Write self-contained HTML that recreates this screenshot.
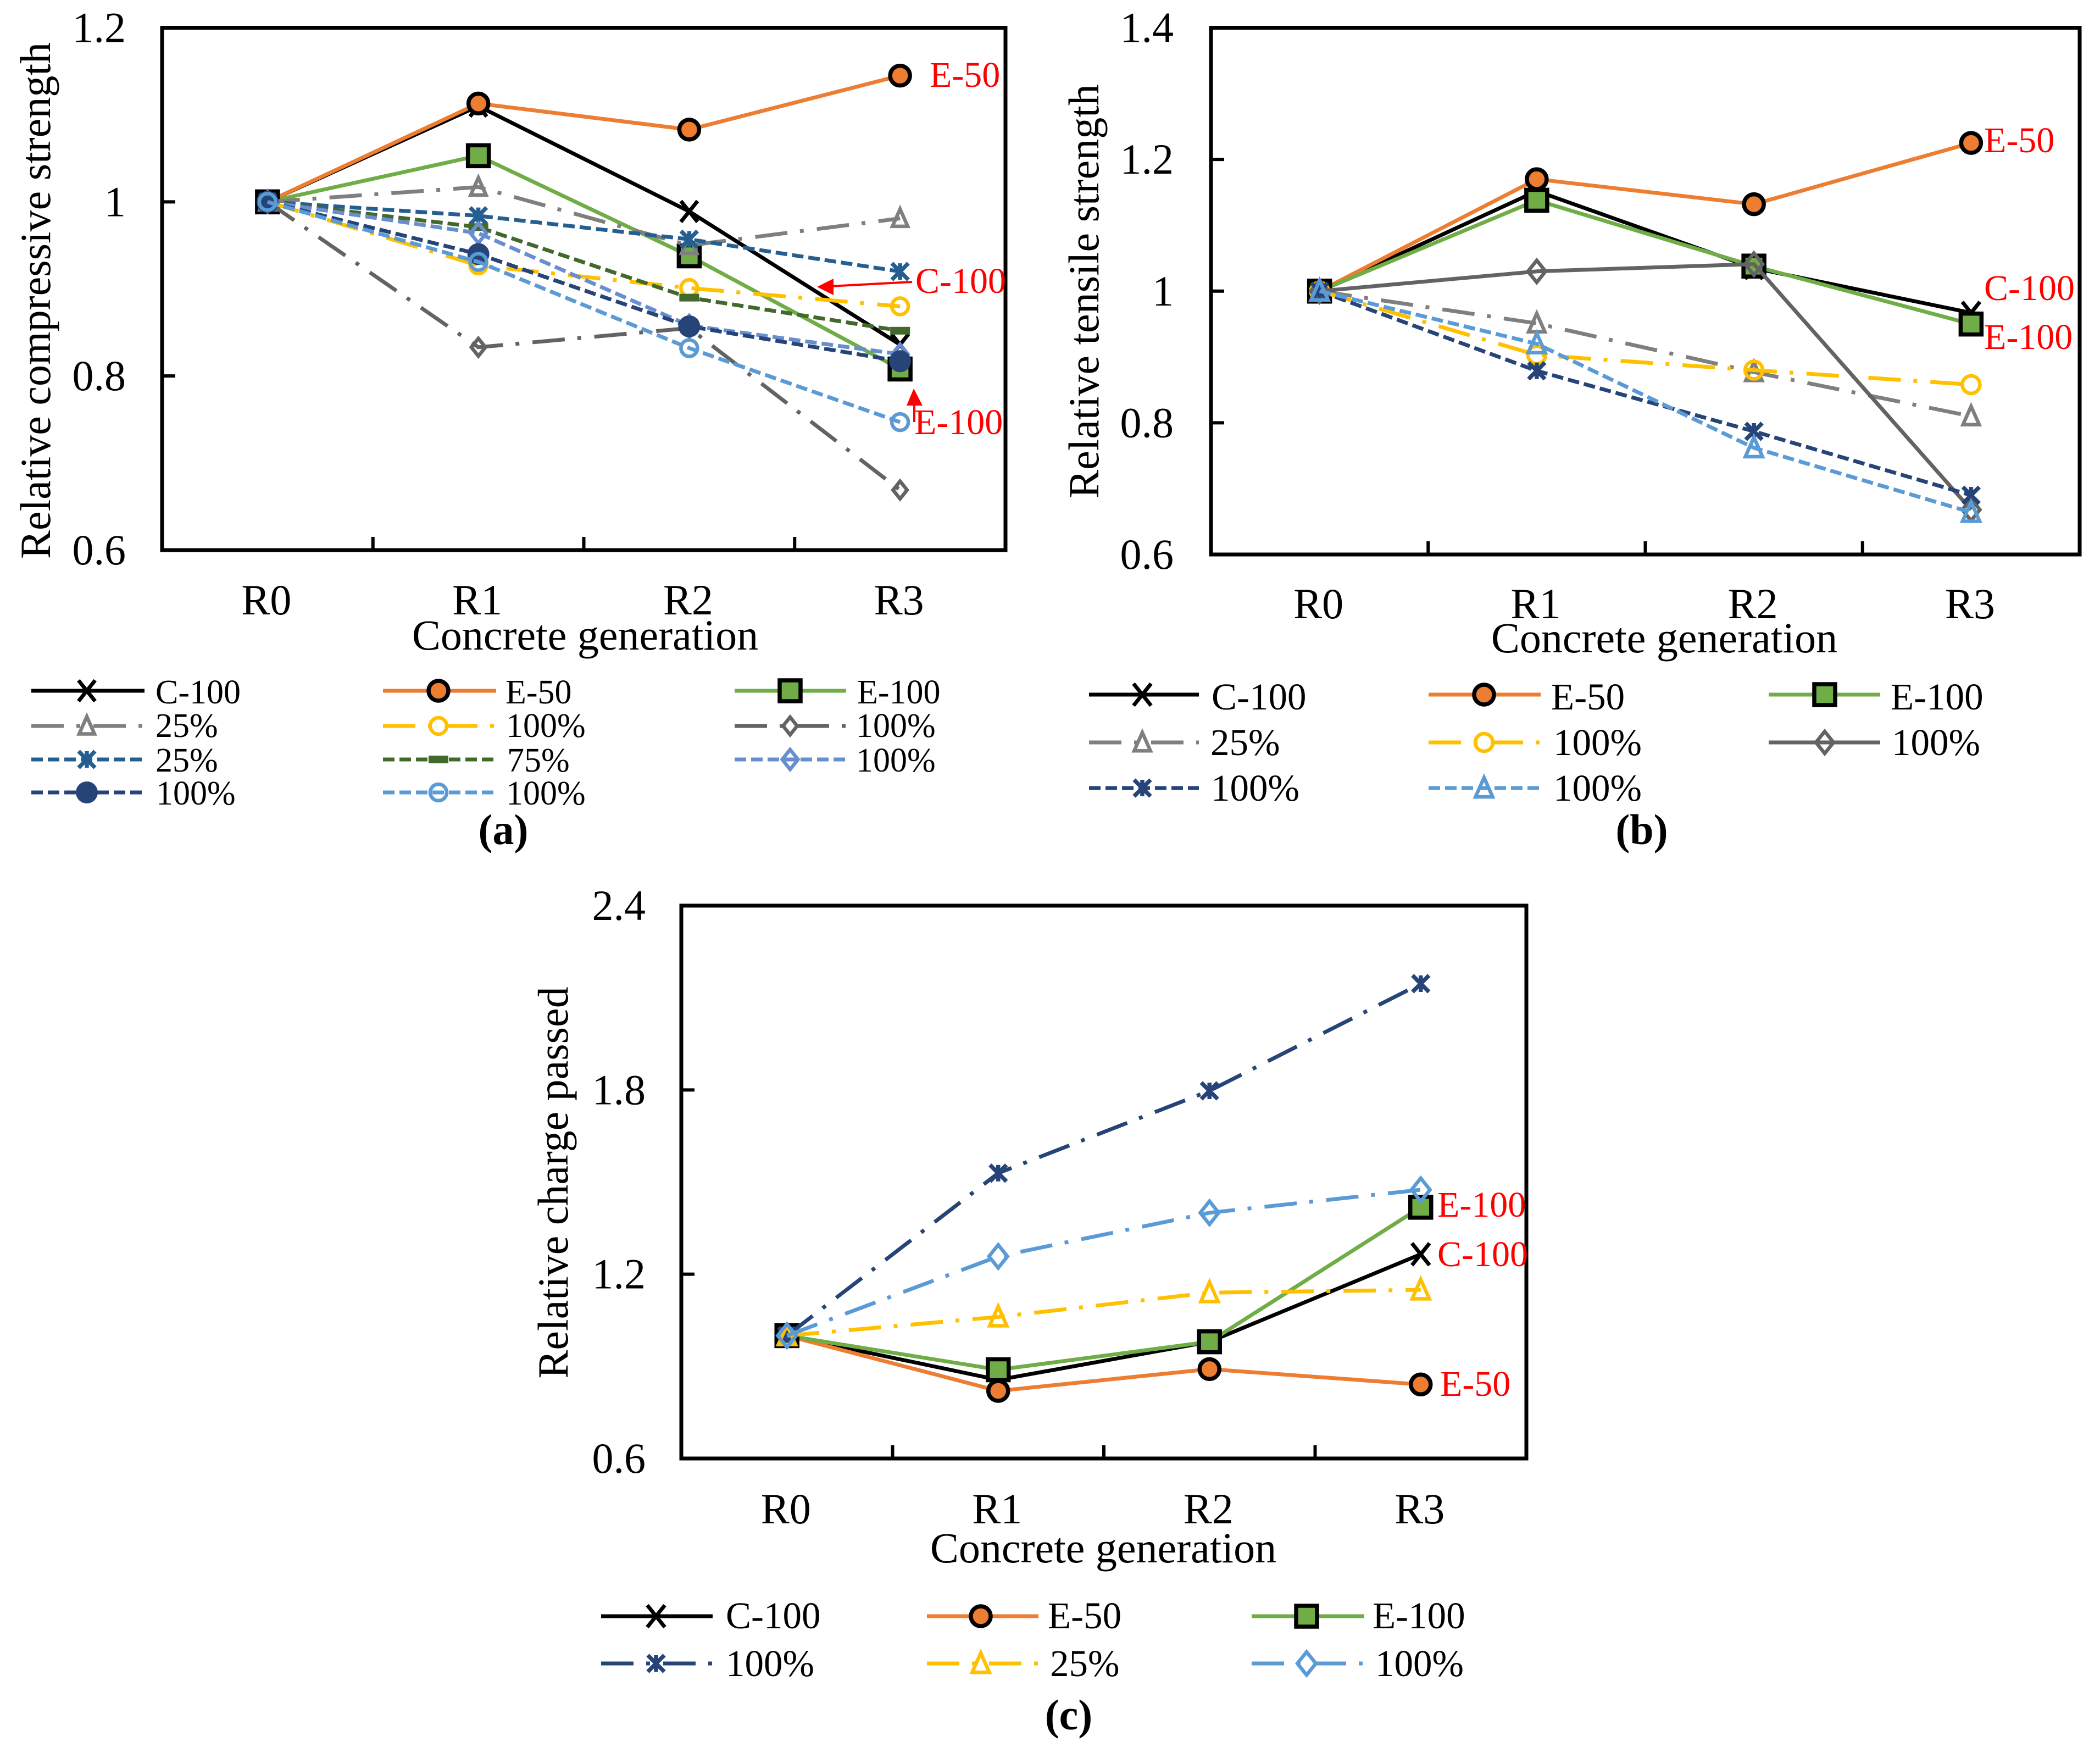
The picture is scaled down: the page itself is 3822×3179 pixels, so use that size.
<!DOCTYPE html>
<html lang="en">
<head>
<meta charset="utf-8">
<title>Relative strength and charge passed by concrete generation</title>
<style>
html,body{margin:0;padding:0;background:#fff;}
svg{display:block;}
text{font-family:"Liberation Serif",serif;fill:#000;}
.title{font-size:78px;}
.leg-a{font-size:62px;}
.leg-b{font-size:69px;}
.red{font-size:66px;fill:#ff0000;}
.cap{font-size:78px;font-weight:bold;text-anchor:middle;}
</style>
</head>
<body>
<svg id="fig" xmlns="http://www.w3.org/2000/svg" width="3822" height="3179" viewBox="0 0 3822 3179">
  <rect x="0" y="0" width="3822" height="3179" fill="#ffffff"/>

  <g id="chart-a"></g>
  <g id="chart-b"></g>
  <g id="chart-c"></g>

  <!-- Chart (a) static text -->
  <text class="title" transform="translate(91,547) rotate(-90)" text-anchor="middle">Relative compressive strength</text>
  <text class="title" x="1065" y="1182" text-anchor="middle">Concrete generation</text>
  <text class="red" x="1692" y="158">E-50</text>
  <text class="red" x="1666" y="533">C-100</text>
  <text class="red" x="1664" y="790">E-100</text>
  <g>
    <line x1="1660" y1="513" x2="1510" y2="521" stroke="#ff0000" stroke-width="4"/>
    <polygon points="1487,522 1517,507 1517,537" fill="#ff0000"/>
  </g>
  <g>
    <line x1="1664" y1="735" x2="1664" y2="768" stroke="#ff0000" stroke-width="4"/>
    <polygon points="1663,707 1650,738 1679,738" fill="#ff0000"/>
  </g>
  <g class="leg-a">
    <text x="283" y="1280">C-100</text>
    <text x="920" y="1280">E-50</text>
    <text x="1560" y="1280">E-100</text>
    <text x="283" y="1341">25%</text>
    <text x="921" y="1341">100%</text>
    <text x="1558" y="1341">100%</text>
    <text x="283" y="1404">25%</text>
    <text x="923" y="1404">75%</text>
    <text x="1558" y="1404">100%</text>
    <text x="284" y="1464">100%</text>
    <text x="921" y="1464">100%</text>
  </g>
  <text class="cap" x="916" y="1536">(a)</text>

  <!-- Chart (b) static text -->
  <text class="title" transform="translate(1999,530) rotate(-90)" text-anchor="middle">Relative tensile strength</text>
  <text class="title" x="3029" y="1187" text-anchor="middle">Concrete generation</text>
  <text class="red" x="3611" y="277">E-50</text>
  <text class="red" x="3611" y="546">C-100</text>
  <text class="red" x="3611" y="635">E-100</text>
  <g class="leg-b">
    <text x="2205" y="1291">C-100</text>
    <text x="2823" y="1291">E-50</text>
    <text x="3441" y="1291">E-100</text>
    <text x="2203" y="1374">25%</text>
    <text x="2827" y="1374">100%</text>
    <text x="3443" y="1374">100%</text>
    <text x="2204" y="1457">100%</text>
    <text x="2827" y="1457">100%</text>
  </g>
  <text class="cap" x="2988" y="1536">(b)</text>

  <!-- Chart (c) static text -->
  <text class="title" transform="translate(1033,2152) rotate(-90)" text-anchor="middle">Relative charge passed</text>
  <text class="title" x="2008" y="2843" text-anchor="middle">Concrete generation</text>
  <text class="red" x="2616" y="2214">E-100</text>
  <text class="red" x="2616" y="2304">C-100</text>
  <text class="red" x="2621" y="2540">E-50</text>
  <g class="leg-b">
    <text x="1321" y="2963">C-100</text>
    <text x="1907" y="2963">E-50</text>
    <text x="2498" y="2963">E-100</text>
    <text x="1321" y="3050">100%</text>
    <text x="1911" y="3050">25%</text>
    <text x="2503" y="3050">100%</text>
  </g>
  <text class="cap" x="1945" y="3147">(c)</text>
</svg>

<script>
// ---- Data ----
const categories = ['R0', 'R1', 'R2', 'R3'];

const aTicks = ['0.6', '0.8', '1', '1.2'];
const aC100 = [1, 1.110, 0.989, 0.836];
const aE50 = [1, 1.113, 1.083, 1.145];
const aE100 = [1, 1.053, 0.938, 0.808];
const aGrayTriangle = [1, 1.017, 0.950, 0.981];
const aYellowCircle = [1, 0.927, 0.901, 0.880];
const aGrayDiamond = [1, 0.833, 0.855, 0.669];
const aBlueStar = [1, 0.984, 0.957, 0.920];
const aGreenDash = [1, 0.971, 0.890, 0.852];
const aPeriDiamond = [1, 0.964, 0.858, 0.825];
const aNavyCircle = [1, 0.940, 0.857, 0.817];
const aLightCircle = [1, 0.931, 0.832, 0.747];

const bTicks = ['0.6', '0.8', '1', '1.2', '1.4'];
const bC100 = [1, 1.152, 1.035, 0.967];
const bE50 = [1, 1.170, 1.132, 1.225];
const bE100 = [1, 1.138, 1.038, 0.950];
const bGrayTriangle = [1, 0.951, 0.877, 0.810];
const bYellowCircle = [1, 0.903, 0.880, 0.858];
const bGrayDiamond = [1, 1.030, 1.041, 0.668];
const bNavyStar = [1, 0.879, 0.787, 0.690];
const bLightTriangle = [1, 0.920, 0.762, 0.664];

const cTicks = ['0.6', '1.2', '1.8', '2.4'];
const cC100 = [1, 0.856, 0.980, 1.265];
const cE50 = [1, 0.820, 0.891, 0.841];
const cE100 = [1, 0.889, 0.980, 1.418];
const cNavyStar = [1, 1.529, 1.797, 2.146];
const cYellowTriangle = [1, 1.061, 1.140, 1.149];
const cLightDiamond = [1, 1.258, 1.400, 1.475];

// ---- Styles ----
const SOLID = null;
const DASHDOT = '59 23 7 24';
const DASHED = '21 9';
const NS = 'http://www.w3.org/2000/svg';

function mk(parent, tag, attrs) {
  const el = document.createElementNS(NS, tag);
  for (const k in attrs) el.setAttribute(k, attrs[k]);
  parent.appendChild(el);
  return el;
}

function drawMarker(parent, type, x, y, color, size) {
  const g = mk(parent, 'g', {});
  const r = size / 2;
  const sw = 6.5;
  if (type === 'x') {
    mk(g, 'path', {d: `M${x-r*0.8} ${y-r}L${x+r*0.8} ${y+r}M${x-r*0.8} ${y+r}L${x+r*0.8} ${y-r}`, stroke: color, 'stroke-width': 7, fill: 'none'});
  } else if (type === 'star') {
    mk(g, 'path', {d: `M${x-r} ${y-r}L${x+r} ${y+r}M${x-r} ${y+r}L${x+r} ${y-r}M${x} ${y-r}L${x} ${y+r}`, stroke: color, 'stroke-width': 7.5, fill: 'none'});
  } else if (type === 'circleFill') {
    mk(g, 'circle', {cx: x, cy: y, r: r - 3, fill: color.fill, stroke: color.stroke, 'stroke-width': 7.5});
  } else if (type === 'squareFill') {
    mk(g, 'rect', {x: x - r + 3, y: y - r + 3, width: size - 6, height: size - 6, fill: color.fill, stroke: color.stroke, 'stroke-width': 7.5});
  } else if (type === 'circleOpen') {
    mk(g, 'circle', {cx: x, cy: y, r: r - 3, fill: 'none', stroke: color, 'stroke-width': sw});
  } else if (type === 'triangle') {
    mk(g, 'polygon', {points: `${x},${y-r} ${x+r*0.82},${y+r*0.85} ${x-r*0.82},${y+r*0.85}`, fill: 'none', stroke: color, 'stroke-width': sw});
  } else if (type === 'diamond') {
    mk(g, 'polygon', {points: `${x},${y-r} ${x+r*0.8},${y} ${x},${y+r} ${x-r*0.8},${y}`, fill: 'none', stroke: color, 'stroke-width': sw});
  } else if (type === 'dash') {
    mk(g, 'rect', {x: x - r, y: y - 7, width: size, height: 14, fill: color});
  } else if (type === 'dotFill') {
    mk(g, 'circle', {cx: x, cy: y, r: r, fill: color});
  }
  return g;
}

function drawChart(root, cfg) {
  const {left, right, top, bottom, yMin, yMax} = cfg;
  const band = (right - left) / categories.length;
  const xScale = i => left + band * (i + 0.5);
  const yScale = v => bottom - (v - yMin) / (yMax - yMin) * (bottom - top);

  // series lines then markers, in drawing order
  cfg.series.forEach(s => {
    const g = mk(root, 'g', {});
    
    
    const pts = s.values.map((v, i) => xScale(i) + ',' + yScale(v)).join(' ');
    const line = mk(g, 'polyline', {points: pts, fill: 'none', stroke: s.color, 'stroke-width': s.width || 7, 'stroke-linejoin': 'round'});
    if (s.dash) line.setAttribute('stroke-dasharray', s.dash);
    
    
    s.values.forEach((v, i) => {
      const m = drawMarker(g, s.marker, xScale(i), yScale(v), s.mcolor || s.color, s.size);
      
      
    });
  });

  // frame
  const frame = mk(root, 'rect', {x: left, y: top, width: right - left, height: bottom - top, fill: 'none', stroke: '#000', 'stroke-width': 7});
  
  

  // y ticks
  cfg.ticks.forEach(t => {
    const y = yScale(parseFloat(t));
    if (y > top + 1 && y < bottom - 1) {
      const tick = mk(root, 'line', {x1: left, x2: left + 24, y1: y, y2: y, stroke: '#000', 'stroke-width': 6});
      
      
    }
    const lab = mk(root, 'text', {x: cfg.tickRight, y: y + 26, 'text-anchor': 'end', 'font-size': 78});
    lab.textContent = t;
    
    
  });

  // x ticks and labels
  categories.forEach((c, i) => {
    if (i > 0) {
      const x = left + band * i;
      const tick = mk(root, 'line', {x1: x, x2: x, y1: bottom, y2: bottom - 24, stroke: '#000', 'stroke-width': 6});
      
      
    }
    const lab = mk(root, 'text', {x: xScale(i) - 2, y: cfg.catBaseline, 'text-anchor': 'middle', 'font-size': 78});
    lab.textContent = c;
    
    
  });

  // legend swatches
  cfg.series.forEach(s => {
    const col = cfg.legendCols[s.col];
    const y = cfg.legendRows[s.row];
    const g = mk(root, 'g', {});
    
    
    const l = mk(g, 'line', {x1: col[0], x2: col[1], y1: y, y2: y, stroke: s.color, 'stroke-width': s.width || 7});
    if (s.dash) l.setAttribute('stroke-dasharray', s.dash);
    drawMarker(g, s.marker, col[2], y, s.mcolor || s.color, s.size);
  });
}

const GRAY = '#7f7f7f', YEL = '#ffc000', DGRAY = '#636363', LB = '#5b9bd5', NAVY = '#264478';
const ORG = {fill: '#ed7d31', stroke: '#000'};
const GRN = {fill: '#70ad47', stroke: '#000'};

drawChart(document.getElementById('chart-a'), {
  left: 295, right: 1830, top: 50.5, bottom: 1001, yMin: 0.6, yMax: 1.2,
  ticks: aTicks, tickRight: 229, catBaseline: 1118,
  legendCols: [[57, 263, 158], [697, 903, 798], [1337, 1540, 1438]],
  legendRows: [1257, 1321, 1382, 1442],
  series: [
    {name: 'c-100', values: aC100, color: '#000', dash: SOLID, marker: 'x', size: 38, col: 0, row: 0},
    {name: 'e-50', values: aE50, color: '#ed7d31', mcolor: ORG, dash: SOLID, marker: 'circleFill', size: 42, col: 1, row: 0},
    {name: 'e-100', values: aE100, color: '#70ad47', mcolor: GRN, dash: SOLID, marker: 'squareFill', size: 44, col: 2, row: 0},
    {name: 'gray-triangle-25', values: aGrayTriangle, color: GRAY, dash: DASHDOT, marker: 'triangle', size: 34, col: 0, row: 1},
    {name: 'yellow-circle-100', values: aYellowCircle, color: YEL, dash: DASHDOT, marker: 'circleOpen', size: 36, col: 1, row: 1},
    {name: 'gray-diamond-100', values: aGrayDiamond, color: DGRAY, dash: DASHDOT, marker: 'diamond', size: 32, col: 2, row: 1},
    {name: 'blue-star-25', values: aBlueStar, color: '#255e91', dash: DASHED, marker: 'star', size: 30, col: 0, row: 2},
    {name: 'green-dash-75', values: aGreenDash, color: '#43682b', dash: DASHED, marker: 'dash', size: 36, col: 1, row: 2},
    {name: 'periwinkle-diamond-100', values: aPeriDiamond, color: '#698ed0', dash: DASHED, marker: 'diamond', size: 36, col: 2, row: 2},
    {name: 'navy-circle-100', values: aNavyCircle, color: NAVY, dash: DASHED, marker: 'dotFill', size: 40, col: 0, row: 3},
    {name: 'lightblue-circle-100', values: aLightCircle, color: LB, dash: DASHED, marker: 'circleOpen', size: 36, col: 1, row: 3}
  ]
});

drawChart(document.getElementById('chart-b'), {
  left: 2204, right: 3785, top: 50.5, bottom: 1009, yMin: 0.6, yMax: 1.4,
  ticks: bTicks, tickRight: 2136, catBaseline: 1125,
  legendCols: [[1982, 2182, 2079], [2600, 2804, 2701], [3219, 3422, 3321]],
  legendRows: [1264, 1351, 1434],
  series: [
    {name: 'c-100', values: bC100, color: '#000', dash: SOLID, marker: 'x', size: 40, col: 0, row: 0},
    {name: 'e-50', values: bE50, color: '#ed7d31', mcolor: ORG, dash: SOLID, marker: 'circleFill', size: 42, col: 1, row: 0},
    {name: 'e-100', values: bE100, color: '#70ad47', mcolor: GRN, dash: SOLID, marker: 'squareFill', size: 44, col: 2, row: 0},
    {name: 'gray-triangle-25', values: bGrayTriangle, color: GRAY, dash: DASHDOT, marker: 'triangle', size: 36, col: 0, row: 1},
    {name: 'yellow-circle-100', values: bYellowCircle, color: YEL, dash: DASHDOT, marker: 'circleOpen', size: 38, col: 1, row: 1},
    {name: 'gray-diamond-100', values: bGrayDiamond, color: DGRAY, dash: SOLID, marker: 'diamond', size: 40, col: 2, row: 1},
    {name: 'navy-star-100', values: bNavyStar, color: NAVY, dash: DASHED, marker: 'star', size: 30, col: 0, row: 2},
    {name: 'lightblue-triangle-100', values: bLightTriangle, color: LB, dash: DASHED, marker: 'triangle', size: 38, col: 1, row: 2}
  ]
});

drawChart(document.getElementById('chart-c'), {
  left: 1240, right: 2778, top: 1648, bottom: 2654, yMin: 0.6, yMax: 2.4,
  ticks: cTicks, tickRight: 1175, catBaseline: 2772,
  legendCols: [[1094, 1297, 1194], [1687, 1890, 1785], [2278, 2483, 2378]],
  legendRows: [2941, 3027],
  series: [
    {name: 'c-100', values: cC100, color: '#000', dash: SOLID, marker: 'x', size: 40, col: 0, row: 0},
    {name: 'e-50', values: cE50, color: '#ed7d31', mcolor: ORG, dash: SOLID, marker: 'circleFill', size: 42, col: 1, row: 0},
    {name: 'e-100', values: cE100, color: '#70ad47', mcolor: GRN, dash: SOLID, marker: 'squareFill', size: 44, col: 2, row: 0},
    {name: 'navy-star-100', values: cNavyStar, color: NAVY, dash: DASHDOT, marker: 'star', size: 30, col: 0, row: 1},
    {name: 'yellow-triangle-25', values: cYellowTriangle, color: YEL, dash: DASHDOT, marker: 'triangle', size: 38, col: 1, row: 1},
    {name: 'lightblue-diamond-100', values: cLightDiamond, color: LB, dash: DASHDOT, marker: 'diamond', size: 42, col: 2, row: 1}
  ]
});
</script>
</body>
</html>
